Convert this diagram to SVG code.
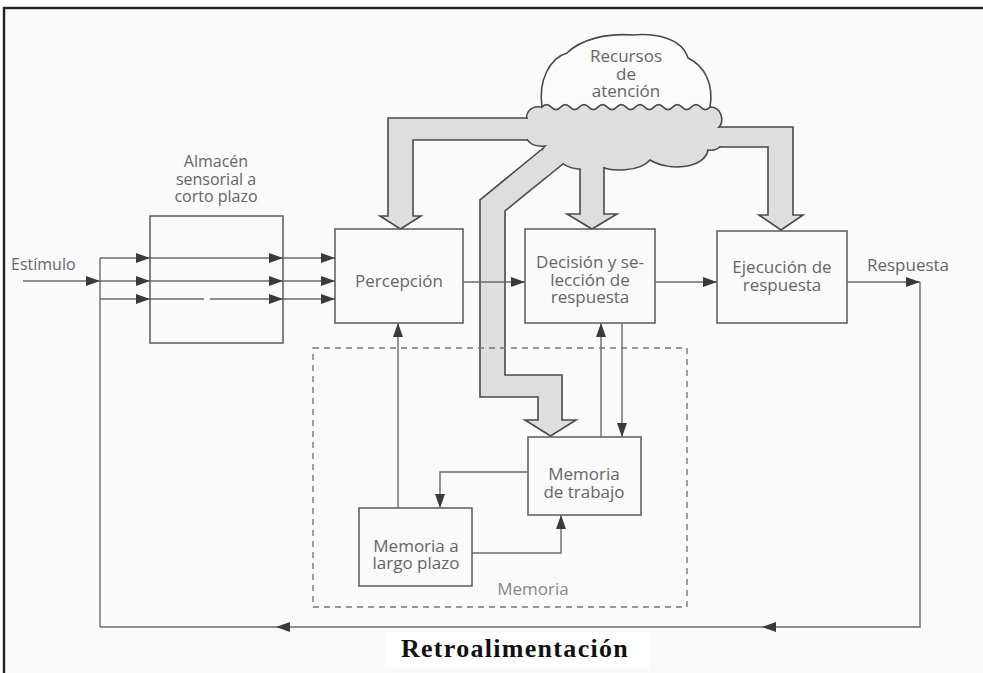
<svg xmlns="http://www.w3.org/2000/svg" width="983" height="673" viewBox="0 0 983 673">
<defs>
<style>
.box{fill:none;stroke:#5a5a5a;stroke-width:1.5}
.ln{fill:none;stroke:#6a6a6a;stroke-width:1.4}
.lbl{font-family:"Open Sans","DejaVu Sans",sans-serif;font-size:17px;fill:#666;text-anchor:middle}
.sm{font-size:16px}
.fat{fill:#dedede;stroke:#4a4a4a;stroke-width:1.6;stroke-linejoin:miter}
.cover{fill:#dedede;stroke:none}
</style>
<marker id="ah" viewBox="0 0 14 10" refX="14" refY="5" markerWidth="14" markerHeight="10" markerUnits="userSpaceOnUse" orient="auto">
<path d="M0,0 L14,5 L0,10 z" fill="#3a3a3a"/>
</marker>
</defs>
<rect x="0" y="0" width="983" height="673" fill="#ffffff"/>
<rect x="4" y="8" width="990" height="680" fill="#fafafa" stroke="#222" stroke-width="2.4"/>
<rect x="385" y="632" width="265" height="36" fill="#ffffff"/>

<g id="attention-arrows">
<polygon class="fat" points="545,118 388,118 388,216 380,216 400.5,229 421,216 413,216 413,140 545,140"/>
<polygon class="fat" points="555,138.5 480,200 480,397 538,397 538,420 525,420 550.5,436 576,420 562,420 562,375 505,375 505,211 570,158"/>
<polygon class="fat" points="580,150 580,214 567,214 592,229 617,214 604,214 604,150"/>
<polygon class="fat" points="700,127 793,127 793,215 803,215 781,230 759,215 768,215 768,147 700,147"/>
</g>

<g id="recursos">
<path class="fat" d="M542,107 Q546.7,102 551.3,107 Q556,112 560.7,107 Q565.3,102 570,107 Q574.7,112 579.3,107 Q584,102 588.7,107 Q593.3,112 598,107 Q602.7,102 607.3,107 Q612,112 616.7,107 Q621.3,102 626,107 Q630.7,112 635.3,107 Q640,102 644.7,107 Q649.3,112 654,107 Q658.7,102 663.3,107 Q668,112 672.7,107 Q677.3,102 682,107 Q686.7,112 691.3,107 Q696,102 700.7,107 Q705.3,112 710,107 C722,107 725,122 718,128 C728,138 722,152 708,150 C705,168 670,172 650,160 C640,172 610,172 600,166 C590,172 565,170 560,160 C548,162 538,152 545,146 C525,148 520,130 530,124 C522,115 530,105 542,107 Z"/>
<rect class="cover" x="516" y="119" width="30" height="20"/>
<rect class="cover" x="700" y="128" width="36" height="18"/>
<rect class="cover" x="581" y="150" width="22" height="30"/>
<polygon class="cover" points="530.8,160 560.8,135.5 574.2,153.5 544.2,178"/>
<path d="M542,107 Q546.7,102 551.3,107 Q556,112 560.7,107 Q565.3,102 570,107 Q574.7,112 579.3,107 Q584,102 588.7,107 Q593.3,112 598,107 Q602.7,102 607.3,107 Q612,112 616.7,107 Q621.3,102 626,107 Q630.7,112 635.3,107 Q640,102 644.7,107 Q649.3,112 654,107 Q658.7,102 663.3,107 Q668,112 672.7,107 Q677.3,102 682,107 Q686.7,112 691.3,107 Q696,102 700.7,107 Q705.3,112 710,107 C714,85 705,66 688,58 C682,38 655,33 633,35 C605,33 580,40 567,53 C550,58 538,80 542,107 Z" fill="#fbfbfb" stroke="#4a4a4a" stroke-width="1.6"/>
<text class="lbl" x="626" y="62">Recursos</text>
<text class="lbl" x="626" y="80">de</text>
<text class="lbl" x="626" y="97">atención</text>
</g>

<g id="memoria">
<rect x="313" y="348" width="374" height="259" fill="none" stroke="#777" stroke-width="1.4" stroke-dasharray="6,5"/>
<text class="lbl" x="533" y="595" style="fill:#888">Memoria</text>
</g>

<g id="almacen">
<rect class="box" x="150" y="216" width="133" height="127"/>
<text class="lbl sm" x="216" y="167">Almacén</text>
<text class="lbl sm" x="216" y="185">sensorial a</text>
<text class="lbl sm" x="216" y="202">corto plazo</text>
</g>

<g id="percepcion">
<rect class="box" x="335" y="229" width="128" height="94"/>
<text class="lbl" x="399" y="287">Percepción</text>
</g>

<g id="decision">
<rect class="box" x="525" y="229" width="130" height="94"/>
<text class="lbl" x="590" y="268">Decisión y se-</text>
<text class="lbl" x="590" y="286">lección de</text>
<text class="lbl" x="590" y="303">respuesta</text>
</g>

<g id="ejecucion">
<rect class="box" x="717" y="231" width="130" height="92"/>
<text class="lbl" x="782" y="273">Ejecución de</text>
<text class="lbl" x="782" y="291">respuesta</text>
</g>

<g id="trabajo">
<rect class="box" x="528" y="437" width="113" height="78"/>
<text class="lbl" x="584" y="480">Memoria</text>
<text class="lbl" x="584" y="498">de trabajo</text>
</g>

<g id="largo">
<rect class="box" x="359" y="508" width="113" height="78"/>
<text class="lbl" x="416" y="552">Memoria a</text>
<text class="lbl" x="416" y="569">largo plazo</text>
</g>

<g id="labels">
<text class="lbl sm" x="11" y="270" style="text-anchor:start">Estímulo</text>
<text class="lbl" x="908" y="271">Respuesta</text>
<text x="515" y="657" text-anchor="middle" font-family="Liberation Serif, serif" font-weight="bold" font-size="26" letter-spacing="1.3" fill="#111">Retroalimentación</text>
</g>

<g id="connectors">
<line class="ln" x1="23" y1="281" x2="100" y2="281" marker-end="url(#ah)"/>
<line class="ln" x1="100" y1="258" x2="100" y2="627"/>
<line class="ln" x1="100" y1="258" x2="150" y2="258" marker-end="url(#ah)"/>
<line class="ln" x1="150" y1="258" x2="283" y2="258" marker-end="url(#ah)"/>
<line class="ln" x1="283" y1="258" x2="335" y2="258" marker-end="url(#ah)"/>
<line class="ln" x1="100" y1="281" x2="150" y2="281" marker-end="url(#ah)"/>
<line class="ln" x1="150" y1="281" x2="283" y2="281" marker-end="url(#ah)"/>
<line class="ln" x1="283" y1="281" x2="335" y2="281" marker-end="url(#ah)"/>
<line class="ln" x1="100" y1="299" x2="150" y2="299" marker-end="url(#ah)"/>
<path class="ln" d="M150,299 H204 M210,299 H283" marker-end="url(#ah)"/>
<line class="ln" x1="283" y1="299" x2="335" y2="299" marker-end="url(#ah)"/>
<line class="ln" x1="463" y1="282" x2="525" y2="282" marker-end="url(#ah)"/>
<line class="ln" x1="655" y1="282" x2="717" y2="282" marker-end="url(#ah)"/>
<line class="ln" x1="847" y1="282" x2="920" y2="282" marker-end="url(#ah)"/>
<polyline class="ln" points="920,282 920,627 762,627" marker-end="url(#ah)"/>
<line class="ln" x1="762" y1="627" x2="276" y2="627" marker-end="url(#ah)"/>
<line class="ln" x1="276" y1="627" x2="100" y2="627"/>
<line class="ln" x1="398" y1="508" x2="398" y2="323" marker-end="url(#ah)"/>
<polyline class="ln" points="528,472 440,472 440,508" marker-end="url(#ah)"/>
<polyline class="ln" points="472,553 561,553 561,515" marker-end="url(#ah)"/>
<line class="ln" x1="601" y1="437" x2="601" y2="323" marker-end="url(#ah)"/>
<line class="ln" x1="622" y1="323" x2="622" y2="437" marker-end="url(#ah)"/>
</g>
</svg>
